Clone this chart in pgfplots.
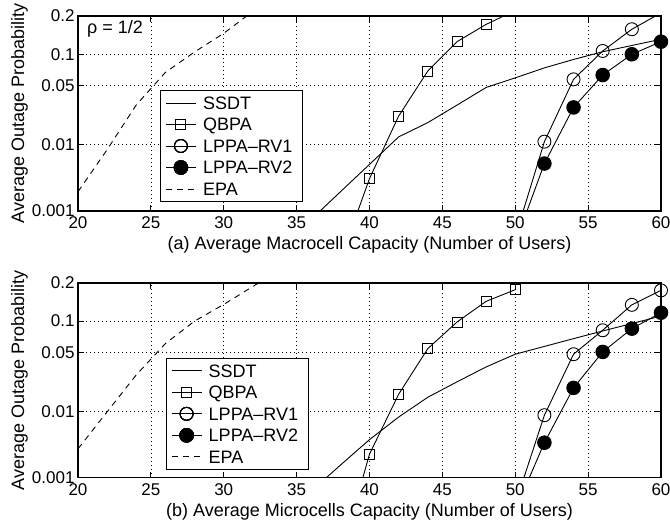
\documentclass[border=0pt]{standalone}
\usepackage{fontspec}
\setmainfont{Liberation Sans}
\usepackage{pgfplots}
\pgfplotsset{compat=1.18}

% normal-probability (probit) y scale
\pgfplotsset{
  y coord trafo/.code={%
    \begingroup
    \pgfkeys{/pgf/fpu=true,/pgf/fpu/output format=fixed}%
    \pgfmathparse{sqrt(-2*ln(#1))}\let\myT\pgfmathresult
    \pgfmathparse{-\myT+(2.515517+0.802853*\myT+0.010328*\myT*\myT)/(1+1.432788*\myT+0.189269*\myT*\myT+0.001308*\myT*\myT*\myT)}%
    \xdef\myProbit{\pgfmathresult}%
    \endgroup
    \let\pgfmathresult\myProbit
  },
  myaxis/.style={
    scale only axis, width=583pt,
    xmin=20, xmax=60, ymin=0.001, ymax=0.2,
    xtick={20,25,...,60},
    ytick={0.001,0.01,0.05,0.1,0.2},
    yticklabels={0.001,0.01,0.05,0.1,0.2},
    grid=major,
    major grid style={black, line width=0.6pt, dash pattern=on 0.8pt off 3.2pt},
    tick align=inside, tick pos=both, major tick length=6pt,
    axis line style={line width=1.1pt},
    every tick/.style={black, line width=0.8pt},
    /pgf/number format/assume math mode=true,
    ticklabel style={font=\fontsize{17}{20}\selectfont},
    xticklabel style={yshift=-2.5pt},
    label style={font=\fontsize{18}{21}\selectfont},
    xlabel style={at={(axis description cs:0.5,0)}, anchor=base, yshift=-39pt},
    ylabel style={at={(axis description cs:-0.0926,0.5)}, anchor=base},
    ylabel={Average Outage Probability},
    legend cell align=left,
    legend image code/.code={%
      \draw[##1, mark=none] (0pt,0pt) -- (30pt,0pt);
      \draw[##1, only marks] plot coordinates {(15pt,0pt) (15pt,0pt) (15pt,0pt) (15pt,0pt) (15pt,0pt) (15pt,0pt) (15pt,0pt) (15pt,0pt)};},
    every axis plot/.append style={black, line width=0.9pt},
  },
  mylegend/.style={
    font=\fontsize{18}{21}\selectfont, draw=black, line width=0.9pt,
    inner xsep=5pt, inner ysep=1.5pt, column sep=1.7pt, row sep=0pt,
    nodes={inner xsep=5pt, inner ysep=4.25pt, text height=13pt, text depth=0pt},
  },
  ssdt/.style={solid, mark=none},
  qbpa/.style={solid, mark=square, mark size=5pt, mark options={solid, line width=0.9pt}},
  rvone/.style={solid, mark=o, mark size=6.5pt, mark options={solid, line width=0.9pt}},
  rvtwo/.style={solid, mark=*, mark size=6.8pt, mark options={solid, fill=black}},
  epa/.style={dash pattern=on 6pt off 5pt, mark=none},
}

\begin{document}
\begin{tikzpicture}
\useasboundingbox (0pt,0pt) rectangle (670pt,-524pt);

% ---------------- (a) ----------------
\begin{axis}[myaxis, height=195pt, at={(78pt,-211pt)}, anchor=south west,
  xlabel={(a) Average Macrocell Capacity (Number of Users)},
  legend style={mylegend, at={(axis description cs:0.1407,0.0477)}, anchor=south west}]
\addplot[ssdt] coordinates {(36,0.00072) (42,0.0127) (44,0.0192) (46,0.0308) (48,0.0479) (50,0.060) (52,0.075) (54,0.0897) (56,0.105) (58,0.1187) (60,0.1335)};
\addplot[qbpa, mark indices={1,2,3,4,5}] coordinates {(38,0.00013) (40,0.0033) (42,0.023) (44,0.070) (46,0.1276) (48,0.174) (50,0.218)};
\addplot[rvone, mark indices={1,2,3,4}] coordinates {(50,0.00035) (52,0.011) (54,0.058) (56,0.1066) (58,0.160) (60,0.21)};
\addplot[rvtwo, mark indices={1,2,3,4,5}] coordinates {(50,0.00027) (52,0.0055) (54,0.029) (56,0.064) (58,0.0998) (60,0.1276)};
\addplot[epa] coordinates {(20,0.00207) (22,0.0086) (24,0.031) (26,0.068) (28,0.1045) (30,0.149) (32,0.215) (34,0.28)};
\legend{SSDT, QBPA, LPPA–RV1, LPPA–RV2, EPA}
\node[anchor=west, font=\fontsize{18}{21}\selectfont, inner sep=0pt] at (axis description cs:0.0154,0.933) {ρ = 1/2};
\end{axis}

% ---------------- (b) ----------------
\begin{axis}[myaxis, height=194.5pt, at={(78pt,-477.5pt)}, anchor=south west,
  xlabel={(b) Average Microcells Capacity (Number of Users)},
  legend style={mylegend, at={(axis description cs:0.1504,0.041)}, anchor=south west}]
\addplot[ssdt] coordinates {(36,0.00058) (38,0.0016) (40,0.0040) (42,0.0084) (44,0.0153) (46,0.0236) (48,0.035) (50,0.048) (52,0.0577) (54,0.0688) (56,0.0814) (58,0.095) (60,0.1106)};
\addplot[qbpa, mark indices={1,2,3,4,5,6}] coordinates {(38,0.00003) (40,0.0024) (42,0.0167) (44,0.0548) (46,0.098) (48,0.146) (50,0.179)};
\addplot[rvone, mark indices={1,2,3,4,5}] coordinates {(50,0.00034) (52,0.0089) (54,0.048) (56,0.0826) (58,0.137) (60,0.177)};
\addplot[rvtwo, mark indices={1,2,3,4,5}] coordinates {(50,0.00026) (52,0.0036) (54,0.020) (56,0.0507) (58,0.0855) (60,0.118)};
\addplot[epa] coordinates {(20,0.0029) (22,0.0099) (24,0.0285) (26,0.0617) (28,0.1) (30,0.138) (32,0.189) (34,0.25)};
\legend{SSDT, QBPA, LPPA–RV1, LPPA–RV2, EPA}
\end{axis}
\end{tikzpicture}
\end{document}
